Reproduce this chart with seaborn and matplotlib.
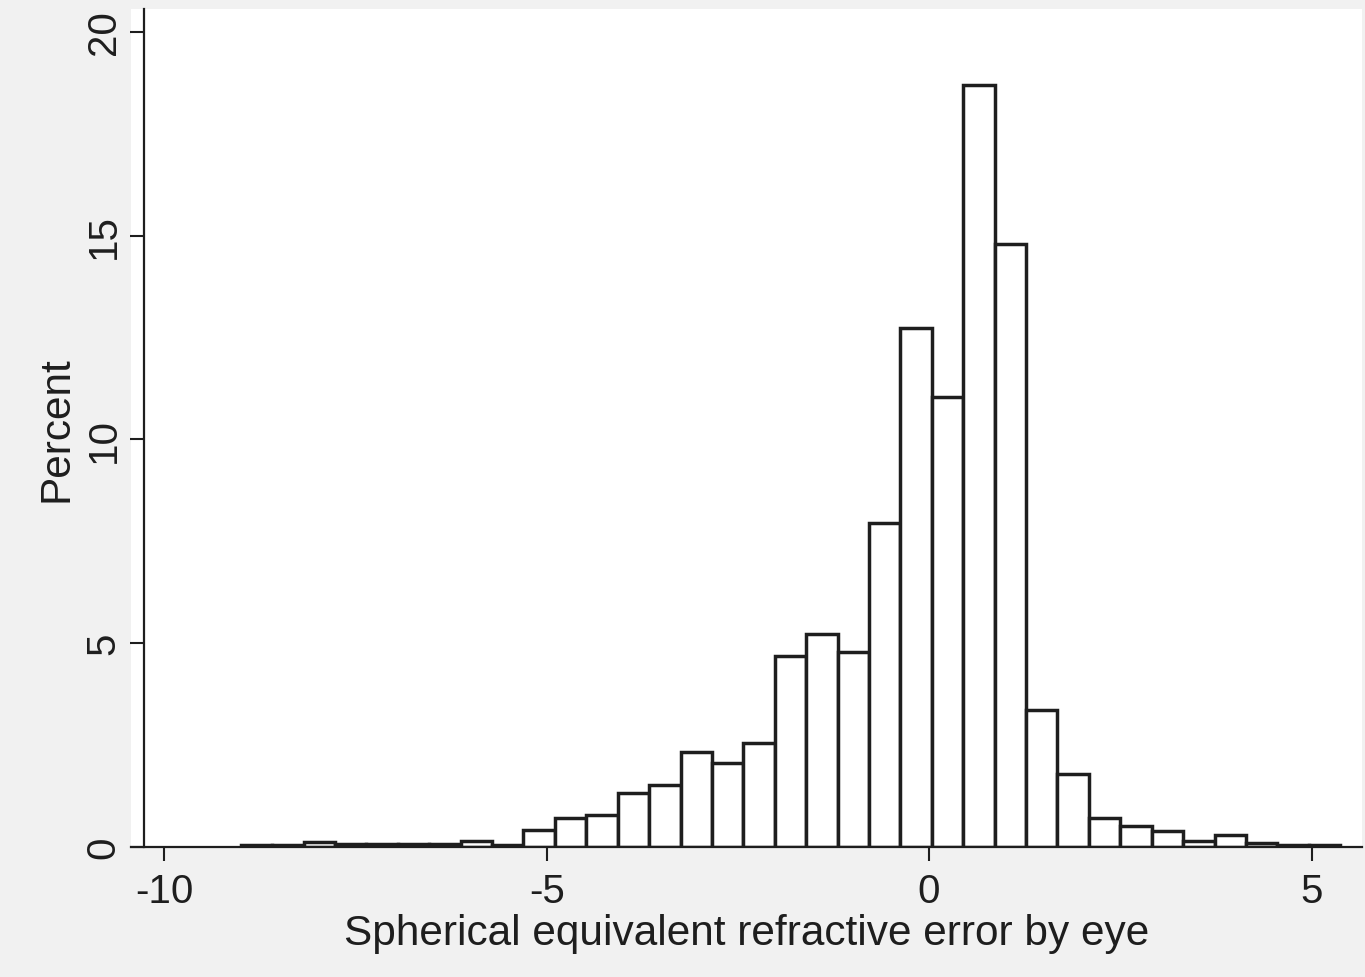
import numpy as np
import matplotlib
matplotlib.use("Agg")
import matplotlib.pyplot as plt
import seaborn as sns

# Histogram layout (35 bins from -9.0 to 5.375)
bin_start = -9.0
bin_stop = 5.375
n_bins = 35

# Percent of eyes in each bin (left to right)
percent = [0.05, 0.05, 0.12, 0.08, 0.08, 0.07, 0.07, 0.16, 0.06,
           0.41, 0.72, 0.78, 1.32, 1.52, 2.34, 2.06, 2.54, 4.69,
           5.23, 4.78, 7.95, 12.74, 11.04, 18.70, 14.79, 3.35, 1.80,
           0.70, 0.51, 0.39, 0.14, 0.29, 0.10, 0.06, 0.05]

x_ticks = [-10, -5, 0, 5]
y_ticks = [0, 5, 10, 15, 20]
x_title = "Spherical equivalent refractive error by eye"
y_title = "Percent"

edges = np.linspace(bin_start, bin_stop, n_bins + 1)
centers = (edges[:-1] + edges[1:]) / 2

sns.set_style("ticks")
plt.rcParams['font.family'] = ['Liberation Sans', 'DejaVu Sans']

fig = plt.figure(figsize=(13.65, 9.78), dpi=100, facecolor='#f1f1f1')
ax = fig.add_axes([0.096, 0.1329, 0.9018, 0.8569])
ax.set_facecolor('white')

sns.histplot(x=centers, weights=percent, bins=n_bins, binrange=(bin_start, bin_stop),
             stat='count', color='white', edgecolor='#1e1e1e', linewidth=2.5,
             alpha=1, ax=ax)

ax.set_xlim(-10.435, 5.66)
ax.set_ylim(0, 20.56)
ax.set_xticks(x_ticks)
ax.set_yticks(y_ticks)
ax.set_xticklabels([str(t) for t in x_ticks])
ax.set_yticklabels([str(t) for t in y_ticks])

for s in ['top', 'right']:
    ax.spines[s].set_visible(False)
ax.spines['left'].set_position(('data', -10.27))
for s in ['left', 'bottom']:
    ax.spines[s].set_linewidth(1.6)
    ax.spines[s].set_color('#1e1e1e')

ax.tick_params(axis='both', length=10, width=1.5, color='#1e1e1e',
               labelsize=29, labelcolor='#1e1e1e')
ax.tick_params(axis='x', pad=8)
ax.tick_params(axis='y', pad=5, labelrotation=90)
for lbl in ax.get_yticklabels():
    lbl.set_va('center')

ax.set_xlabel(x_title, fontsize=30.5, color='#1e1e1e', labelpad=2)
ax.set_ylabel(y_title, fontsize=30.5, color='#1e1e1e', labelpad=6)

fig.savefig('out.png', dpi=100, facecolor=fig.get_facecolor())
plt.close(fig)
